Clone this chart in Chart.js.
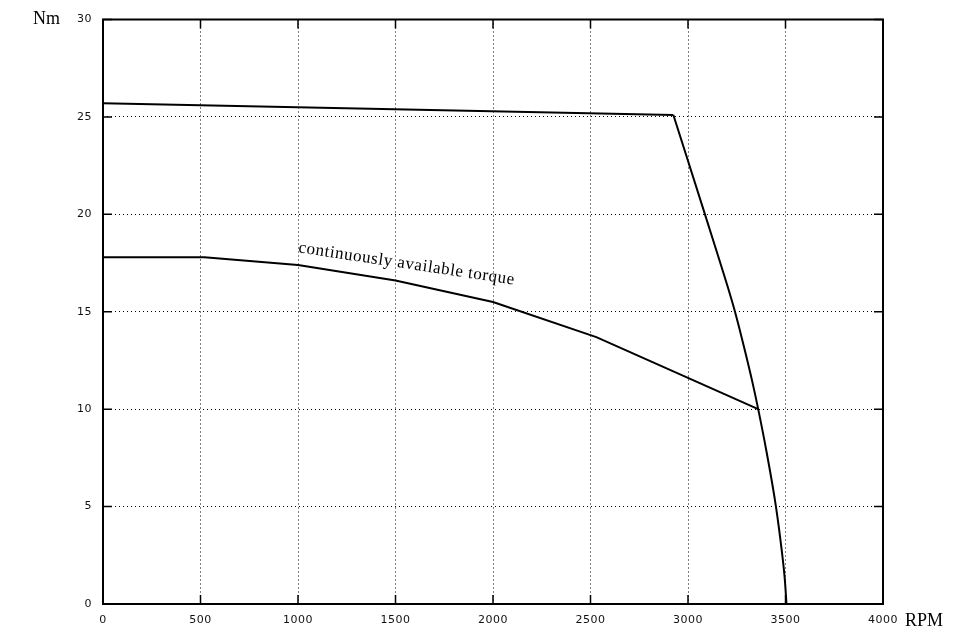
<!DOCTYPE html>
<html>
<head>
<meta charset="utf-8">
<script src="https://cdn.jsdelivr.net/npm/chart.js@4.4.0/dist/chart.umd.min.js"></script>
<style>
html,body{margin:0;padding:0;background:#fff;}
#c{display:block;}
</style>
</head>
<body>
<canvas id="c" width="954" height="627"></canvas>
<script>
// Peak torque curve (RPM, Nm): flat part then the drop-off
const peakFlatRpm    = [0, 2925];
const peakFlatTorque = [25.7, 25.1];
const peakDropRpm    = [2925, 3087, 3150, 3200, 3241, 3292, 3330, 3360, 3403, 3451, 3480, 3497, 3505];
const peakDropTorque = [25.1, 20.0, 18.0, 16.4, 15.0, 13.0, 11.4, 10.0, 7.8, 5.0, 2.8, 1.2, 0];
// Continuously available torque curve
const contRpm    = [0, 520, 1000, 1500, 2000, 2530, 3360];
const contTorque = [17.8, 17.8, 17.4, 16.6, 15.5, 13.7, 10.0];
// Axes
const xMin = 0, xMax = 4000, xStep = 500;
const yMin = 0, yMax = 30, yStep = 5;
const xTitle = "RPM", yTitle = "Nm";
const curveLabel = "continuously available torque";
const curveLabelAt = {x: 1000, y: 18.05};

const toPts = (xs, ys) => xs.map((x, i) => ({x: x, y: ys[i]}));

const framePlugin = {
  id: 'frame',
  beforeDraw(chart) {
    try { chart.ctx.letterSpacing = '0.5px'; } catch (e) {}
  },
  afterDraw(chart) {
    const ctx = chart.ctx, a = chart.chartArea;
    const xs = chart.scales.x, ys = chart.scales.y;
    ctx.save();
    try { ctx.letterSpacing = '0px'; } catch (e) {}
    ctx.strokeStyle = '#000';
    // inward ticks
    ctx.lineWidth = 1.5;
    ctx.beginPath();
    xs.ticks.forEach(t => {
      const px = xs.getPixelForValue(t.value);
      ctx.moveTo(px, a.bottom); ctx.lineTo(px, a.bottom - 9);
      ctx.moveTo(px, a.top); ctx.lineTo(px, a.top + 9);
    });
    ys.ticks.forEach(t => {
      const py = ys.getPixelForValue(t.value);
      ctx.moveTo(a.left, py); ctx.lineTo(a.left + 9, py);
      ctx.moveTo(a.right, py); ctx.lineTo(a.right - 9, py);
    });
    ctx.stroke();
    // frame
    ctx.lineWidth = 2;
    ctx.strokeRect(a.left, a.top, a.right - a.left, a.bottom - a.top);
    // axis titles
    ctx.fillStyle = '#000';
    ctx.font = '18px "Liberation Serif"';
    ctx.textBaseline = 'alphabetic';
    ctx.textAlign = 'left';
    ctx.fillText(yTitle, 33, 24);
    ctx.fillText(xTitle, 905, 626);
    // curve label
    const lx = xs.getPixelForValue(curveLabelAt.x), ly = ys.getPixelForValue(curveLabelAt.y);
    ctx.translate(lx, ly);
    ctx.rotate(8.5 * Math.PI / 180);
    ctx.font = '17px "Liberation Serif"';
    try { ctx.letterSpacing = '0.6px'; } catch (e) {}
    ctx.fillText(curveLabel, 0, 0);
    ctx.restore();
  }
};

const lineStyle = {showLine: true, borderColor: '#000', borderWidth: 2, pointRadius: 0};
const tickFont = {family: 'DejaVu Sans', size: 11};

new Chart(document.getElementById('c'), {
  type: 'scatter',
  data: {
    datasets: [
      Object.assign({data: toPts(peakFlatRpm, peakFlatTorque), tension: 0}, lineStyle),
      Object.assign({data: toPts(peakDropRpm, peakDropTorque), cubicInterpolationMode: 'monotone'}, lineStyle),
      Object.assign({data: toPts(contRpm, contTorque), tension: 0}, lineStyle)
    ]
  },
  options: {
    responsive: false,
    animation: false,
    devicePixelRatio: 1,
    layout: {padding: {top: 19.5, right: 71, left: 0, bottom: 0}},
    plugins: {legend: {display: false}, tooltip: {enabled: false}},
    scales: {
      x: {
        type: 'linear', min: xMin, max: xMax,
        afterFit(s) { s.height = 23; },
        grid: {color: '#000', lineWidth: 1, drawTicks: false},
        border: {display: false, dash: [1, 3]},
        ticks: {stepSize: xStep, color: '#111', padding: 10, font: tickFont, maxRotation: 0,
                callback: v => String(v)}
      },
      y: {
        type: 'linear', min: yMin, max: yMax,
        afterFit(s) { s.width = 103; },
        grid: {color: '#000', lineWidth: 1, drawTicks: false},
        border: {display: false, dash: [1, 3]},
        ticks: {stepSize: yStep, color: '#111', padding: 11, font: tickFont,
                callback: v => String(v)}
      }
    }
  },
  plugins: [framePlugin]
});
</script>
</body>
</html>
